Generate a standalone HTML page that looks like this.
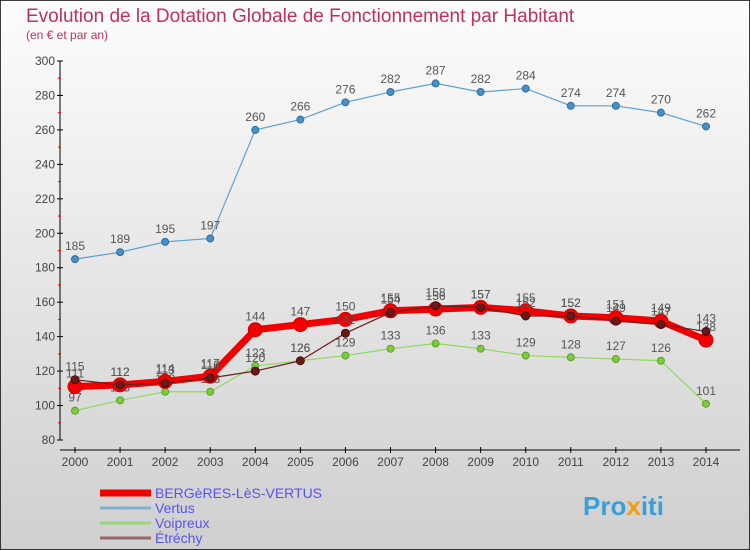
<!DOCTYPE html>
<html><head><meta charset="utf-8"><style>
html,body{margin:0;padding:0;}
body{width:750px;height:550px;overflow:hidden;font-family:"Liberation Sans",sans-serif;}
svg{display:block;}
</style></head><body>
<svg id="chart" width="750" height="550" xmlns="http://www.w3.org/2000/svg">
<defs><linearGradient id="bg" x1="0" y1="0" x2="0" y2="1"><stop offset="0" stop-color="#fdfdfd"/><stop offset="1" stop-color="#cfcfcf"/></linearGradient></defs>
<rect x="0" y="0" width="750" height="550" fill="url(#bg)" stroke="#000" stroke-width="1.5"/>
<text x="26" y="22" font-size="19" fill="#c0305a">Evolution de la Dotation Globale de Fonctionnement par Habitant</text>
<text x="26" y="39" font-size="12" fill="#c0305a">(en € et par an)</text>
<g id="axes"></g><g id="series"></g><g id="legend"></g>
<text x="583" y="515" font-size="26" font-weight="bold" fill="#3a9fd8">Pro<tspan fill="#f39c12">x</tspan>iti</text>
</svg>
<script>
const years=[2000,2001,2002,2003,2004,2005,2006,2007,2008,2009,2010,2011,2012,2013,2014];
const yTicks=[80,100,120,140,160,180,200,220,240,260,280,300];
const bergeres=[111,112,114,117,144,147,150,155,156,157,155,152,151,149,138];
const vertus=[185,189,195,197,260,266,276,282,287,282,284,274,274,270,262];
const voipreux=[97,103,108,108,123,126,129,133,136,133,129,128,127,126,101];
const etrechy=[115,112,113,116,120,126,142,154,158,157,152,152,149,147,143];
const NS="http://www.w3.org/2000/svg";
const X=i=>75+i*(706-75)/(years.length-1);
const Y=v=>440-(v-80)*(440-61)/220;
function mk(t,a,p){const e=document.createElementNS(NS,t);for(const k in a)e.setAttribute(k,a[k]);p.appendChild(e);return e;}
const ax=document.getElementById('axes');
let l=mk('line',{x1:60,y1:Y(300),x2:60,y2:440,stroke:'#000'},ax);


l=mk('line',{x1:60,y1:450,x2:740,y2:450,stroke:'#000'},ax);


yTicks.forEach((v,i)=>{
 mk('line',{x1:57,y1:Y(v),x2:63,y2:Y(v),stroke:'#000'},ax);
 if(i<yTicks.length-1) mk('line',{x1:58,y1:Y(v+10),x2:61,y2:Y(v+10),stroke:'#e00'},ax);
 const t=mk('text',{x:55,y:Y(v)+4,'font-size':12,'text-anchor':'end',fill:'#444'},ax);
 t.textContent=v;
 
 
});
years.forEach((y,i)=>{
 mk('line',{x1:X(i),y1:447,x2:X(i),y2:453,stroke:'#000'},ax);
 const t=mk('text',{x:X(i),y:466,'font-size':12,'text-anchor':'middle',fill:'#444'},ax);
 t.textContent=y;
 
 
});
const sg=document.getElementById('series');
function series(name,data,color,w,r,dot,dotStroke){
 const g=mk('g',{},sg);
 
 
 const p=mk('polyline',{points:data.map((v,i)=>X(i)+','+Y(v)).join(' '),fill:'none',stroke:color,'stroke-width':w,'stroke-linejoin':'round'},g);
 
 
 data.forEach((v,i)=>{
  const c=mk('circle',{cx:X(i),cy:Y(v),r:r,fill:dot,stroke:dotStroke,'stroke-width':1},g);
  
  
  const t=mk('text',{x:X(i),y:Y(v)-9,'font-size':12,'text-anchor':'middle',fill:'#555'},g);
  t.textContent=v;
  
  
 });
}
series('vertus',vertus,'#5fa0d0',1.2,3.5,'#4a90c8','#2e6ea0');
series('voipreux',voipreux,'#90d860',1.2,3.5,'#7ccc3c','#5aa028');
series('bergeres',bergeres,'#f00000',7,7,'#f00000','#d00000');
series('etrechy',etrechy,'#6a2020',1.2,4,'#6a1818','#401010');
const lg=document.getElementById('legend');
[['BERGèRES-LèS-VERTUS','#ee0000',7,493],['Vertus','#7fb0d0',3,508],['Voipreux','#98d878',3,523],['Étréchy','#996666',3,538]].forEach(e=>{
 const g=mk('g',{},lg);
 
 
 mk('line',{x1:100,y1:e[3],x2:151,y2:e[3],stroke:e[1],'stroke-width':e[2]},g);
 const t=mk('text',{x:155,y:e[3]+5,'font-size':14,fill:'#5555ee'},g);
 t.textContent=e[0];
});
</script>
</body></html>
